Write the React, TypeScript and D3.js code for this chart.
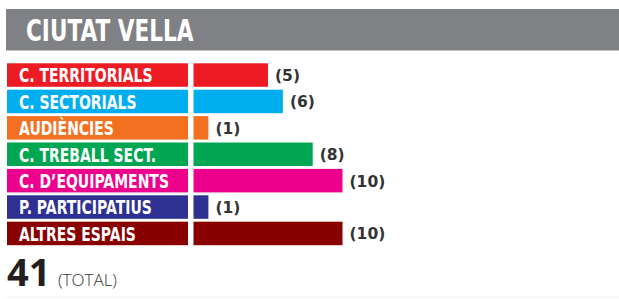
import React from 'react';
import { scaleBand, scaleLinear } from 'd3';

const title = 'CIUTAT VELLA';
const categories = [
  'C. TERRITORIALS',
  'C. SECTORIALS',
  'AUDIÈNCIES',
  'C. TREBALL SECT.',
  'C. D’EQUIPAMENTS',
  'P. PARTICIPATIUS',
  'ALTRES ESPAIS',
];
const values = [5, 6, 1, 8, 10, 1, 10];
const colors = ['#ED1C24', '#00AEEF', '#F37021', '#00A651', '#EC008C', '#2E3192', '#880000'];
const total = 41;
const totalLabel = '(TOTAL)';

const width = 619;
const height = 299;

// no condensed face installed, so squeeze a bold sans horizontally
const narrow = '"DejaVu Sans", sans-serif';

export default function App() {
  const y = scaleBand<string>()
    .domain(categories)
    .range([63.3, 245.2])
    .paddingInner(0.11)
    .paddingOuter(0);

  const x = scaleLinear().domain([0, 10]).range([193.5, 342.5]);

  return (
    <svg width={width} height={height} style={{ position: 'absolute', left: 0, top: 0 }}>
      {/* header */}
      <rect x={6} y={9} width={width - 6} height={41.5} fill="#808184" />
      <text transform="translate(26,40.7) scale(0.72,1)" fill="#fff" fontFamily={narrow} fontWeight="bold" fontSize={30}>
        {title}
      </text>

      {categories.map((c, i) => {
        const yy = y(c)!;
        const bh = y.bandwidth();
        return (
          <g key={c}>
            <rect x={7} y={yy} width={181} height={bh} fill={colors[i]} />
            <text transform={`translate(19,${yy + bh / 2 + 7.3}) scale(0.7,1)`} fill="#fff" fontFamily={narrow} fontWeight="bold" fontSize={20}>
              {c}
            </text>
            <rect x={x(0)} y={yy} width={x(values[i]) - x(0)} height={bh} fill={colors[i]} />
            <text x={x(values[i]) + 7} y={yy + bh / 2 + 6} fill="#333" fontFamily='"DejaVu Sans", sans-serif' fontWeight="bold" fontSize={15.5}>
              ({values[i]})
            </text>
          </g>
        );
      })}

      {/* total */}
      <text x={7} y={286} fill="#231F20" fontFamily='"Open Sans", sans-serif' fontWeight="bold" fontSize={38}>
        {total}
      </text>
      <text x={58} y={286} fill="#333" fontFamily='"Open Sans", sans-serif' fontWeight={300} fontSize={17}>
        {totalLabel}
      </text>
      <line x1={6} x2={width} y1={297} y2={297} stroke="#f2f2f2" strokeWidth={1} />
    </svg>
  );
}
